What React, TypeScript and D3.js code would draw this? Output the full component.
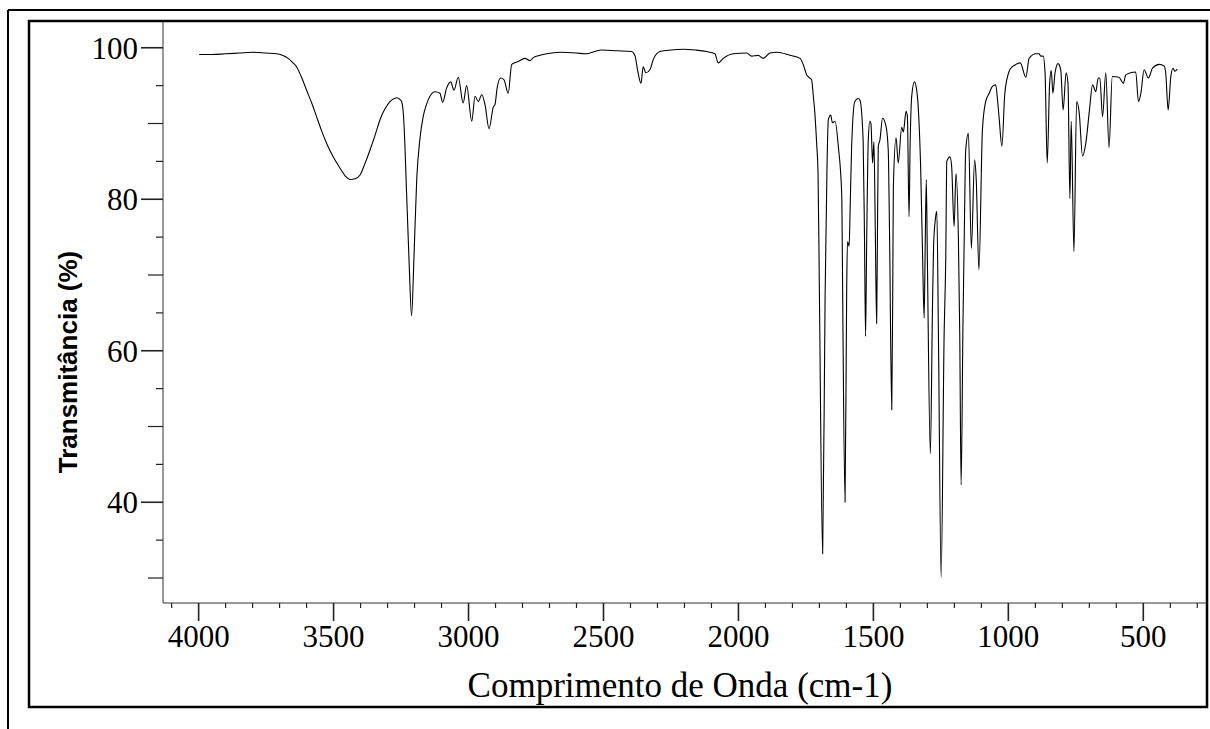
import React from "react";
import * as d3 from "d3";

// Wavenumber (cm-1) and transmittance (%)
const wavenumbers: number[] = [
  3998, 3950, 3900, 3850, 3798, 3750, 3711, 3690, 3668, 3650, 3637, 3620, 3600, 3580, 3563, 3545,
  3526, 3500, 3476, 3455, 3439, 3420, 3402, 3385, 3365, 3345, 3328, 3310, 3291, 3275, 3266, 3255,
  3248, 3240, 3229, 3220, 3211, 3202, 3192, 3180, 3168, 3155, 3143, 3124, 3106, 3096, 3081, 3066,
  3054, 3038, 3020, 3007, 2988, 2976, 2964, 2951, 2939, 2924, 2908, 2902, 2894, 2881, 2869, 2853,
  2840, 2816, 2791, 2772, 2760, 2735, 2711, 2661, 2600, 2569, 2507, 2450, 2396, 2383, 2373, 2361,
  2353, 2343, 2328, 2316, 2291, 2250, 2204, 2160, 2118, 2087, 2075, 2056, 2019, 1970, 1951, 1927,
  1908, 1883, 1858, 1809, 1772, 1760, 1747, 1735, 1729, 1723, 1717, 1710, 1705, 1700, 1688, 1679,
  1672, 1667, 1658, 1652, 1642, 1630, 1617, 1614, 1605, 1599, 1596, 1590, 1586, 1581, 1569, 1556,
  1550, 1538, 1533, 1529, 1525, 1519, 1513, 1509, 1503, 1498, 1493, 1488, 1485, 1482, 1476, 1466,
  1453, 1445, 1440, 1432, 1428, 1426, 1416, 1408, 1395, 1389, 1379, 1374, 1368, 1364, 1358, 1348,
  1340, 1334, 1325, 1318, 1312, 1308, 1304, 1300, 1289, 1281, 1277, 1270, 1265, 1259, 1249, 1238,
  1232, 1228, 1216, 1210, 1201, 1194, 1185, 1180, 1175, 1168, 1163, 1158, 1148, 1137, 1125, 1119,
  1109, 1096, 1084, 1071, 1059, 1047, 1040, 1034, 1024, 1013, 997, 985, 972, 956, 935, 923,
  898, 886, 880, 871, 864, 856, 847, 841, 835, 827, 816, 806, 797, 786, 779, 772,
  767, 757, 747, 738, 725, 713, 700, 688, 676, 667, 661, 651, 639, 627, 615, 590,
  574, 565, 547, 528, 518, 509, 497, 481, 466, 441, 423, 417, 408, 398, 390, 383,
  374,
];

const transmittance: number[] = [
  99.1, 99.1, 99.2, 99.3, 99.4, 99.3, 99.2, 99.0, 98.6, 98.0, 97.5, 96.2, 94.4, 92.6, 90.9, 89.1,
  87.4, 85.5, 84.1, 83.0, 82.6, 82.7, 83.2, 84.6, 86.5, 88.6, 90.5, 91.9, 92.9, 93.3, 93.4, 93.2,
  92.9, 90.5, 80.3, 71.5, 64.6, 72.5, 82.6, 88.0, 90.9, 92.6, 93.6, 94.2, 94.0, 92.8, 94.7, 95.5,
  94.4, 96.1, 92.7, 95.0, 90.3, 93.6, 92.9, 93.8, 92.5, 89.3, 92.2, 92.5, 94.7, 96.0, 95.8, 94.0,
  97.8, 98.2, 98.6, 98.3, 98.7, 99.0, 99.2, 99.4, 99.3, 99.2, 99.7, 99.6, 99.5, 98.9, 96.9, 95.3,
  97.5, 96.7, 97.1, 98.4, 99.5, 99.7, 99.8, 99.7, 99.5, 99.2, 98.0, 98.6, 99.2, 99.3, 98.9, 99.0,
  98.6, 99.3, 99.4, 99.0, 98.6, 97.8, 96.4, 96.0, 95.8, 93.8, 91.4, 87.2, 83.4, 67.5, 33.2, 67.0,
  84.0, 90.5, 91.1, 90.1, 90.3, 87.0, 80.3, 68.0, 40.0, 68.0, 74.4, 73.8, 79.0, 86.5, 92.9, 93.3,
  93.1, 87.8, 75.0, 61.9, 74.0, 87.8, 90.3, 90.0, 84.8, 87.6, 76.0, 63.6, 75.0, 87.0, 87.8, 90.7,
  89.6, 86.5, 75.0, 52.2, 70.0, 81.7, 88.1, 84.8, 89.5, 88.9, 91.6, 90.9, 77.7, 87.0, 93.6, 95.5,
  94.5, 92.2, 84.3, 73.0, 64.3, 74.0, 82.6, 72.0, 46.4, 66.0, 73.8, 77.5, 78.4, 62.0, 30.1, 62.0,
  72.0, 85.0, 85.6, 84.3, 76.4, 83.4, 74.6, 62.0, 42.3, 64.0, 76.0, 86.5, 88.7, 73.5, 85.2, 82.6,
  70.7, 89.2, 92.9, 94.0, 94.9, 95.1, 93.1, 90.7, 87.0, 94.0, 96.9, 97.5, 97.8, 98.0, 96.1, 98.6,
  99.2, 99.2, 98.9, 98.9, 96.7, 84.8, 95.3, 97.0, 94.0, 96.7, 97.9, 97.1, 91.8, 96.7, 95.3, 80.1,
  90.3, 73.1, 92.9, 91.6, 85.7, 87.4, 91.6, 95.1, 94.2, 96.0, 96.0, 90.9, 96.7, 86.8, 96.2, 96.1,
  95.3, 96.4, 96.7, 96.8, 92.9, 94.0, 97.1, 96.0, 97.3, 97.8, 97.6, 96.7, 91.8, 96.2, 97.3, 96.9,
  97.2,
];

const xTickLabels: number[] = [4000, 3500, 3000, 2500, 2000, 1500, 1000, 500];
const yTickLabels: number[] = [40, 60, 80, 100];

const xTitle = "Comprimento de Onda (cm-1)";
const yTitle = "Transmitância (%)";

export default function App() {
  const W = 1210;
  const H = 729;
  const left = 163;
  const right = 1207;
  const top = 22;
  const bottom = 603;

  const x = d3.scaleLinear().domain([4132, 264]).range([left, right]);
  const y = d3.scaleLinear().domain([26.7, 103.4]).range([bottom, top]);

  const pts: [number, number][] = wavenumbers.map((w, i) => [w, transmittance[i]]);
  const line = d3
    .line<[number, number]>()
    .x((d) => x(d[0]))
    .y((d) => y(d[1]))
    .curve(d3.curveMonotoneX);

  const xMinor = d3.range(4100, 299, -100);
  const yMinor = d3.range(30, 101, 5);

  const serif = "'Liberation Serif', 'Times New Roman', serif";
  const sans = "'Liberation Sans', Arial, sans-serif";

  return (
    <svg
      width={W}
      height={H}
      style={{ position: "absolute", left: 0, top: 0, background: "#fff" }}
    >
      <rect x={0} y={0} width={W} height={H} fill="#fff" />
      {/* outer frame */}
      <line x1={8} y1={10} x2={W} y2={10} stroke="#000" strokeWidth={2} />
      <line x1={8} y1={10} x2={8} y2={H} stroke="#000" strokeWidth={2} />
      {/* inner frame */}
      <rect x={29} y={21} width={1178} height={686} fill="none" stroke="#000" strokeWidth={2.5} />

      {/* axes lines */}
      <line x1={left} y1={top} x2={left} y2={bottom} stroke="#333" strokeWidth={1} />
      <line x1={left} y1={bottom} x2={right} y2={bottom} stroke="#333" strokeWidth={1} />

      {/* y ticks */}
      {yMinor.map((v) => {
        const len = v % 20 === 0 ? 22 : v % 10 === 0 ? 15 : 7;
        return (
          <line
            key={"yt" + v}
            x1={left - len}
            x2={left}
            y1={y(v)}
            y2={y(v)}
            stroke="#222"
            strokeWidth={v % 20 === 0 ? 1.6 : 1.2}
          />
        );
      })}
      {yTickLabels.map((v) => (
        <text
          key={"yl" + v}
          x={138}
          y={y(v) + 11}
          textAnchor="end"
          fontFamily={serif}
          fontSize={31}
          fill="#000"
        >
          {v}
        </text>
      ))}

      {/* x ticks */}
      {xMinor.map((v) => {
        const major = v % 500 === 0;
        return (
          <line
            key={"xt" + v}
            x1={x(v)}
            x2={x(v)}
            y1={bottom}
            y2={bottom + (major ? 18 : 5)}
            stroke="#222"
            strokeWidth={major ? 1.6 : 1.2}
          />
        );
      })}
      {xTickLabels.map((v) => (
        <text
          key={"xl" + v}
          x={x(v)}
          y={647}
          textAnchor="middle"
          fontFamily={serif}
          fontSize={31}
          fill="#000"
        >
          {v}
        </text>
      ))}

      {/* titles */}
      <text x={680} y={697} textAnchor="middle" fontFamily={serif} fontSize={35} fill="#000">
        {xTitle}
      </text>
      <text
        transform="translate(77,362) rotate(-90)"
        textAnchor="middle"
        fontFamily={sans}
        fontWeight="bold"
        fontSize={26}
        fill="#000"
      >
        {yTitle}
      </text>

      {/* spectrum */}
      <path d={line(pts) || ""} fill="none" stroke="#000" strokeWidth={1.1} strokeLinejoin="round" />
    </svg>
  );
}
